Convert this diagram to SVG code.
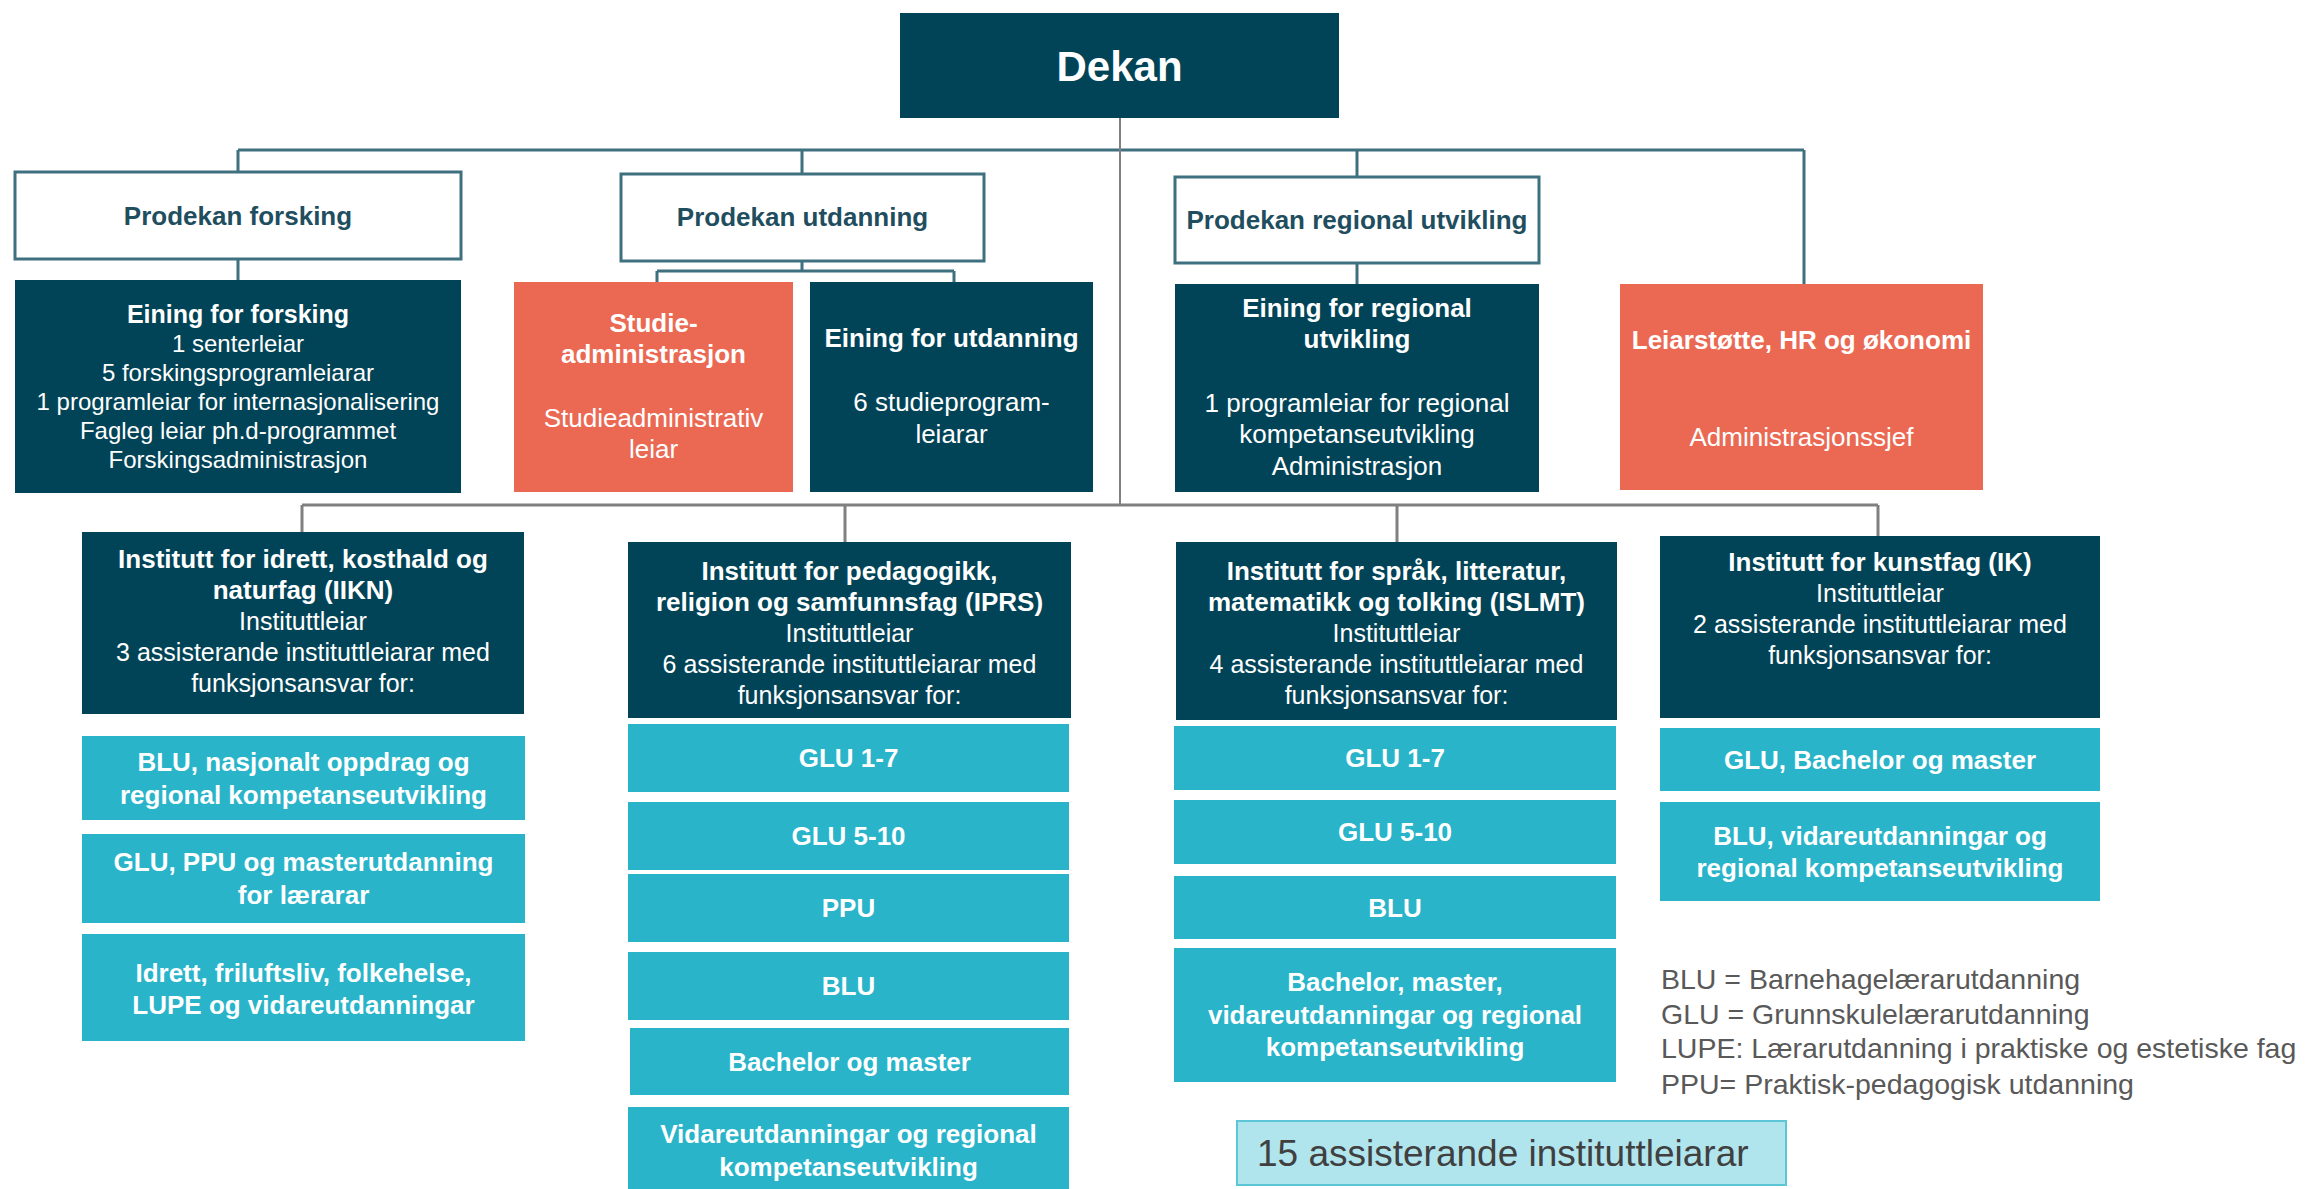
<svg xmlns="http://www.w3.org/2000/svg" width="2315" height="1189" viewBox="0 0 2315 1189">
<style>
.dark{fill:#024457}
.orange{fill:#EB6953}
.cyan{fill:#29B4C9}
.pro{fill:#fff;stroke:#3f7080;stroke-width:3}
.t{font-family:"Liberation Sans",Arial,sans-serif;text-anchor:middle;fill:#fff}
.b{font-weight:bold}
.pt{font-family:"Liberation Sans",Arial,sans-serif;text-anchor:middle;font-weight:bold;font-size:26px;fill:#1F4E5F}
.conn{stroke:#3f7080;stroke-width:3;fill:none}
.gconn{stroke:#808080;stroke-width:3;fill:none}
.leg{font-family:"Liberation Sans",Arial,sans-serif;font-size:28.5px;fill:#595959}
</style>
<rect width="2315" height="1189" fill="#fff"/>
<g id="connectors">
<path class="conn" d="M238 150 H1804 M238 150 V172 M802 150 V174 M1357 150 V177 M1804 150 V284"/>
<path class="conn" d="M238 259 V280 M802 261 V271 M657 271 H954 M657 271 V282 M954 271 V282 M1357 263 V284"/>
<path class="gconn" style="stroke-width:2" d="M1120 118 V505"/>
<path class="gconn" d="M302 505 H1878 M302 505 V532 M845 505 V542 M1397 505 V542 M1878 505 V536"/>
</g>
<g id="dekan">
<rect class="dark" x="900" y="13" width="439" height="105"/>
<text class="t b" x="1119.5" y="81" font-size="42">Dekan</text>
</g>
<g id="prodekan-forsking">
<rect class="pro" x="15" y="172" width="446" height="87"/>
<text class="pt" x="238" y="225">Prodekan forsking</text>
</g>
<g id="prodekan-utdanning">
<rect class="pro" x="621" y="174" width="363" height="87"/>
<text class="pt" x="802.5" y="226">Prodekan utdanning</text>
</g>
<g id="prodekan-regional">
<rect class="pro" x="1175" y="177" width="364" height="86"/>
<text class="pt" x="1357" y="229">Prodekan regional utvikling</text>
</g>
<g id="eining-forsking">
<rect class="dark" x="15" y="280" width="446" height="213"/>
<text class="t b" x="238" y="323" font-size="25">Eining for forsking</text>
<text class="t" x="238" font-size="24"><tspan x="238" y="352">1 senterleiar</tspan><tspan x="238" y="381">5 forskingsprogramleiarar</tspan><tspan x="238" y="410">1 programleiar for internasjonalisering</tspan><tspan x="238" y="439">Fagleg leiar ph.d-programmet</tspan><tspan x="238" y="468">Forskingsadministrasjon</tspan></text>
</g>
<g id="studieadministrasjon">
<rect class="orange" x="514" y="282" width="279" height="210"/>
<text class="t b" font-size="26"><tspan x="653.5" y="332">Studie-</tspan><tspan x="653.5" y="363">administrasjon</tspan></text>
<text class="t" font-size="26"><tspan x="653.5" y="427">Studieadministrativ</tspan><tspan x="653.5" y="458">leiar</tspan></text>
</g>
<g id="eining-utdanning">
<rect class="dark" x="810" y="282" width="283" height="210"/>
<text class="t b" x="951.5" y="347" font-size="26">Eining for utdanning</text>
<text class="t" font-size="26"><tspan x="951.5" y="411">6 studieprogram-</tspan><tspan x="951.5" y="443">leiarar</tspan></text>
</g>
<g id="eining-regional">
<rect class="dark" x="1175" y="284" width="364" height="208"/>
<text class="t b" font-size="26"><tspan x="1357" y="317">Eining for regional</tspan><tspan x="1357" y="348">utvikling</tspan></text>
<text class="t" font-size="26"><tspan x="1357" y="412">1 programleiar for regional</tspan><tspan x="1357" y="443">kompetanseutvikling</tspan><tspan x="1357" y="475">Administrasjon</tspan></text>
</g>
<g id="leiarstotte">
<rect class="orange" x="1620" y="284" width="363" height="206"/>
<text class="t b" x="1801.5" y="349" font-size="26">Leiarstøtte, HR og økonomi</text>
<text class="t" x="1801.5" y="446" font-size="26">Administrasjonssjef</text>
</g>
<g id="iikn">
<rect class="dark" x="82" y="532" width="442" height="182"/>
<text class="t b" font-size="26"><tspan x="303" y="568">Institutt for idrett, kosthald og</tspan><tspan x="303" y="599">naturfag (IIKN)</tspan></text>
<text class="t" font-size="25"><tspan x="303" y="630">Instituttleiar</tspan><tspan x="303" y="661">3 assisterande instituttleiarar med</tspan><tspan x="303" y="692">funksjonsansvar for:</tspan></text>
</g>
<g id="iikn-blu">
<rect class="cyan" x="82" y="736" width="443" height="84"/>
<text class="t b" font-size="26"><tspan x="303.5" y="771">BLU, nasjonalt oppdrag og</tspan><tspan x="303.5" y="804">regional kompetanseutvikling</tspan></text>
</g>
<g id="iikn-glu">
<rect class="cyan" x="82" y="834" width="443" height="89"/>
<text class="t b" font-size="26"><tspan x="303.5" y="871">GLU, PPU og masterutdanning</tspan><tspan x="303.5" y="904">for lærarar</tspan></text>
</g>
<g id="iikn-idrett">
<rect class="cyan" x="82" y="934" width="443" height="107"/>
<text class="t b" font-size="26"><tspan x="303.5" y="982">Idrett, friluftsliv, folkehelse,</tspan><tspan x="303.5" y="1014">LUPE og vidareutdanningar</tspan></text>
</g>
<g id="iprs">
<rect class="dark" x="628" y="542" width="443" height="176"/>
<text class="t b" font-size="26"><tspan x="849.5" y="580">Institutt for pedagogikk,</tspan><tspan x="849.5" y="611">religion og samfunnsfag (IPRS)</tspan></text>
<text class="t" font-size="25"><tspan x="849.5" y="642">Instituttleiar</tspan><tspan x="849.5" y="673">6 assisterande instituttleiarar med</tspan><tspan x="849.5" y="704">funksjonsansvar for:</tspan></text>
</g>
<g id="iprs-glu17">
<rect class="cyan" x="628" y="724" width="441" height="68"/>
<text class="t b" x="848.5" y="767" font-size="26">GLU 1-7</text>
</g>
<g id="iprs-glu510">
<rect class="cyan" x="628" y="802" width="441" height="68"/>
<text class="t b" x="848.5" y="845" font-size="26">GLU 5-10</text>
</g>
<g id="iprs-ppu">
<rect class="cyan" x="628" y="874" width="441" height="68"/>
<text class="t b" x="848.5" y="917" font-size="26">PPU</text>
</g>
<g id="iprs-blu">
<rect class="cyan" x="628" y="952" width="441" height="68"/>
<text class="t b" x="848.5" y="995" font-size="26">BLU</text>
</g>
<g id="iprs-bachelor">
<rect class="cyan" x="630" y="1028" width="439" height="67"/>
<text class="t b" x="849.5" y="1071" font-size="26">Bachelor og master</text>
</g>
<g id="iprs-vidare">
<rect class="cyan" x="628" y="1107" width="441" height="90"/>
<text class="t b" font-size="26"><tspan x="848.5" y="1143">Vidareutdanningar og regional</tspan><tspan x="848.5" y="1176">kompetanseutvikling</tspan></text>
</g>
<g id="islmt">
<rect class="dark" x="1176" y="542" width="441" height="178"/>
<text class="t b" font-size="26"><tspan x="1396.5" y="580">Institutt for språk, litteratur,</tspan><tspan x="1396.5" y="611">matematikk og tolking (ISLMT)</tspan></text>
<text class="t" font-size="25"><tspan x="1396.5" y="642">Instituttleiar</tspan><tspan x="1396.5" y="673">4 assisterande instituttleiarar med</tspan><tspan x="1396.5" y="704">funksjonsansvar for:</tspan></text>
</g>
<g id="islmt-glu17">
<rect class="cyan" x="1174" y="726" width="442" height="64"/>
<text class="t b" x="1395" y="767" font-size="26">GLU 1-7</text>
</g>
<g id="islmt-glu510">
<rect class="cyan" x="1174" y="800" width="442" height="64"/>
<text class="t b" x="1395" y="841" font-size="26">GLU 5-10</text>
</g>
<g id="islmt-blu">
<rect class="cyan" x="1174" y="876" width="442" height="63"/>
<text class="t b" x="1395" y="917" font-size="26">BLU</text>
</g>
<g id="islmt-bachelor">
<rect class="cyan" x="1174" y="948" width="442" height="134"/>
<text class="t b" font-size="26"><tspan x="1395" y="991">Bachelor, master,</tspan><tspan x="1395" y="1024">vidareutdanningar og regional</tspan><tspan x="1395" y="1056">kompetanseutvikling</tspan></text>
</g>
<g id="ik">
<rect class="dark" x="1660" y="536" width="440" height="182"/>
<text class="t b" x="1880" y="571" font-size="26">Institutt for kunstfag (IK)</text>
<text class="t" font-size="25"><tspan x="1880" y="602">Instituttleiar</tspan><tspan x="1880" y="633">2 assisterande instituttleiarar med</tspan><tspan x="1880" y="664">funksjonsansvar for:</tspan></text>
</g>
<g id="ik-glu">
<rect class="cyan" x="1660" y="728" width="440" height="63"/>
<text class="t b" x="1880" y="769" font-size="26">GLU, Bachelor og master</text>
</g>
<g id="ik-blu">
<rect class="cyan" x="1660" y="802" width="440" height="99"/>
<text class="t b" font-size="26"><tspan x="1880" y="845">BLU, vidareutdanningar og</tspan><tspan x="1880" y="877">regional kompetanseutvikling</tspan></text>
</g>
<g id="legend">
<text class="leg"><tspan x="1661" y="989">BLU = Barnehagelærarutdanning</tspan><tspan x="1661" y="1024">GLU = Grunnskulelærarutdanning</tspan><tspan x="1661" y="1058">LUPE: Lærarutdanning i praktiske og estetiske fag</tspan><tspan x="1661" y="1094">PPU= Praktisk-pedagogisk utdanning</tspan></text>
</g>
<g id="summary">
<rect x="1237" y="1121" width="549" height="64" fill="#B1E5EE" stroke="#5CC6D6" stroke-width="2"/>
<text x="1257" y="1166" font-family="'Liberation Sans',Arial,sans-serif" font-size="37" fill="#404040">15 assisterande instituttleiarar</text>
</g>
</svg>
